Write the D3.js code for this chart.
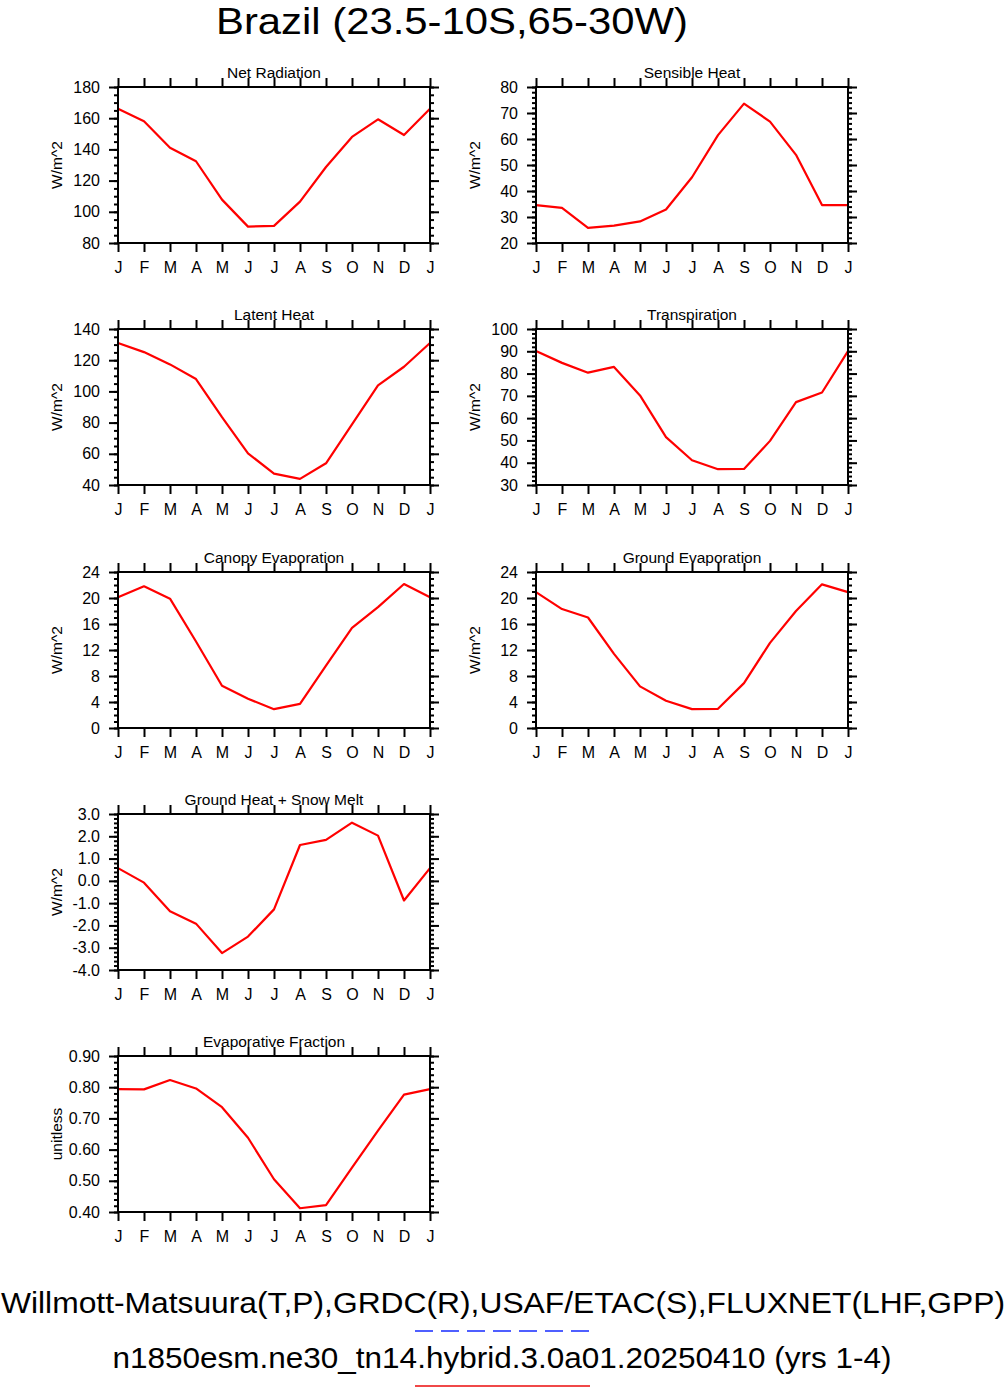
<!DOCTYPE html>
<html>
<head>
<meta charset="utf-8">
<script src="https://cdn.jsdelivr.net/npm/d3@7"></script>
<style>
  body { margin: 0; background: #fff; }
  svg text { font-family: "Liberation Sans", Arial, Helvetica, sans-serif; fill: #000; }
</style>
</head>
<body>
<div id="wrapper"></div>
<script>
// month tick labels (Jan .. Jan, 13 points, last repeats the first)
const monthLabels = ['J', 'F', 'M', 'A', 'M', 'J', 'J', 'A', 'S', 'O', 'N', 'D', 'J'];

// values
const netRadiation = [166, 158, 141.1, 132.4, 107.8, 90.5, 91, 106.5, 128.7, 148, 159.3, 149.2, 166];
const sensibleHeat = [34.6, 33.5, 25.8, 26.7, 28.3, 32.9, 45.3, 61.5, 73.6, 66.7, 53.9, 34.6, 34.6];
const latentHeat = [131, 125.2, 117.3, 107.9, 83.5, 60.3, 47.3, 43.9, 53.9, 78.8, 103.8, 115.8, 131];
const transpiration = [90.1, 84.8, 80.4, 83, 70.2, 51.5, 41.1, 37.1, 37.2, 49.8, 67.2, 71.5, 90.1];
const canopyEvap = [20.1, 21.8, 19.9, 13.3, 6.5, 4.5, 2.9, 3.7, 9.6, 15.4, 18.6, 22.15, 20.1];
const groundEvap = [20.9, 18.3, 17.0, 11.4, 6.4, 4.2, 2.9, 2.95, 6.9, 13.1, 18.0, 22.1, 20.9];
const groundHeat = [0.57, -0.08, -1.36, -1.92, -3.24, -2.5, -1.28, 1.61, 1.84, 2.61, 2.03, -0.88, 0.57];
const evapFraction = [0.794, 0.793, 0.823, 0.796, 0.736, 0.638, 0.505, 0.412, 0.422, 0.542, 0.661, 0.776, 0.794];

// panel titles / units / axis ranges [min, max, major step, minor step, decimals]
const panelTitles = ['Net Radiation', 'Sensible Heat', 'Latent Heat', 'Transpiration',
  'Canopy Evaporation', 'Ground Evaporation', 'Ground Heat + Snow Melt', 'Evaporative Fraction'];
const panelUnits = ['W/m^2', 'W/m^2', 'W/m^2', 'W/m^2', 'W/m^2', 'W/m^2', 'W/m^2', 'unitless'];
const panelRanges = [
  [80, 180, 20, 5, 0],
  [20, 80, 10, 2, 0],
  [40, 140, 20, 5, 0],
  [30, 100, 10, 2, 0],
  [0, 24, 4, 1, 0],
  [0, 24, 4, 1, 0],
  [-4, 3, 1, 0.2, 1],
  [0.4, 0.9, 0.1, 0.02, 2]
];
const panelSeries = [netRadiation, sensibleHeat, latentHeat, transpiration,
  canopyEvap, groundEvap, groundHeat, evapFraction];

const mainTitle = 'Brazil (23.5-10S,65-30W)';
const footer1 = 'Willmott-Matsuura(T,P),GRDC(R),USAF/ETAC(S),FLUXNET(LHF,GPP)';
const footer2 = 'n1850esm.ne30_tn14.hybrid.3.0a01.20250410 (yrs 1-4)';

const dimensions = {
  width: 1006,
  height: 1388,
  plotWidth: 312,
  plotHeight: 156,
  colX: [118, 536],
  rowY: [87, 329, 572, 814, 1056]
};

const svg = d3.select('#wrapper')
  .append('svg')
    .attr('width', dimensions.width)
    .attr('height', dimensions.height);

svg.append('text')
    .attr('x', 452)
    .attr('y', 34)
    .attr('text-anchor', 'middle')
    .attr('font-size', 37)
    .attr('textLength', 472)
    .attr('lengthAdjust', 'spacingAndGlyphs')
    .text(mainTitle);

function drawPanel(i) {
  const [yMin, yMax, step, minor, decimals] = panelRanges[i];
  const values = panelSeries[i];
  // first six panels sit in two columns, the last two stack in the left column
  const ox = dimensions.colX[i < 6 ? i % 2 : 0];
  const oy = dimensions.rowY[i < 6 ? Math.floor(i / 2) : i - 3];
  const w = dimensions.plotWidth;
  const h = dimensions.plotHeight;

  const bounds = svg.append('g')
      .attr('transform', `translate(${ox},${oy})`);

  const xScale = d3.scaleLinear()
    .domain([0, monthLabels.length - 1])
    .range([0, w]);

  const yScale = d3.scaleLinear()
    .domain([yMin, yMax])
    .range([h, 0]);

  const majorTicks = d3.range(0, Math.round((yMax - yMin) / step) + 1)
    .map(k => +(yMin + k * step).toFixed(4));
  const minorTicks = d3.range(0, Math.round((yMax - yMin) / minor) + 1)
    .map(k => +(yMin + k * minor).toFixed(4));
  const monthIdx = d3.range(monthLabels.length);

  // plain hyphen for negatives, like the reference
  const fmt = d => d.toFixed(decimals);

  const styleAxis = g => {
    g.select('.domain').remove();
    g.selectAll('line').attr('stroke', '#000').attr('stroke-width', 2);
    g.selectAll('text').attr('font-size', 16).style('font-family', 'Liberation Sans, Arial, sans-serif');
  };

  // minor y ticks, both sides
  bounds.append('g')
      .call(d3.axisLeft(yScale).tickValues(minorTicks).tickSize(4).tickFormat(''))
      .call(styleAxis);
  bounds.append('g')
      .attr('transform', `translate(${w},0)`)
      .call(d3.axisRight(yScale).tickValues(minorTicks).tickSize(4).tickFormat(''))
      .call(styleAxis);

  // major y ticks
  bounds.append('g')
      .call(d3.axisLeft(yScale).tickValues(majorTicks).tickSize(9).tickPadding(9).tickFormat(fmt))
      .call(styleAxis);
  bounds.append('g')
      .attr('transform', `translate(${w},0)`)
      .call(d3.axisRight(yScale).tickValues(majorTicks).tickSize(9).tickFormat(''))
      .call(styleAxis);

  // x ticks top and bottom
  bounds.append('g')
      .attr('transform', `translate(0,${h})`)
      .call(d3.axisBottom(xScale).tickValues(monthIdx).tickSize(9).tickPadding(10)
        .tickFormat(d => monthLabels[d]))
      .call(styleAxis);
  bounds.append('g')
      .call(d3.axisTop(xScale).tickValues(monthIdx).tickSize(9).tickFormat(''))
      .call(styleAxis);

  const lineGenerator = d3.line()
      .x((d, k) => xScale(k))
      .y(d => yScale(d));

  bounds.append('path')
      .attr('d', lineGenerator(values))
      .attr('fill', 'none')
      .attr('stroke', '#ff0000')
      .attr('stroke-width', 2.2)
      .attr('stroke-linejoin', 'round');

  bounds.append('rect')
      .attr('width', w)
      .attr('height', h)
      .attr('fill', 'none')
      .attr('stroke', '#000')
      .attr('stroke-width', 2);

  bounds.append('text')
      .attr('x', w / 2)
      .attr('y', -9)
      .attr('text-anchor', 'middle')
      .attr('font-size', 15.5)
      .text(panelTitles[i]);

  bounds.append('text')
      .attr('transform', `translate(${-56},${h / 2}) rotate(-90)`)
      .attr('text-anchor', 'middle')
      .attr('font-size', 15.5)
      .text(panelUnits[i]);
}

panelTitles.forEach((t, i) => drawPanel(i));

svg.append('text')
    .attr('x', 503)
    .attr('y', 1313)
    .attr('text-anchor', 'middle')
    .attr('font-size', 30)
    .attr('textLength', 1004)
    .attr('lengthAdjust', 'spacingAndGlyphs')
    .text(footer1);

svg.append('line')
    .attr('x1', 415).attr('x2', 590)
    .attr('y1', 1331).attr('y2', 1331)
    .attr('stroke', '#4f5fff')
    .attr('stroke-width', 2)
    .attr('stroke-dasharray', '18 8');

svg.append('text')
    .attr('x', 502)
    .attr('y', 1368)
    .attr('text-anchor', 'middle')
    .attr('font-size', 30)
    .attr('textLength', 779)
    .attr('lengthAdjust', 'spacingAndGlyphs')
    .text(footer2);

svg.append('line')
    .attr('x1', 415).attr('x2', 590)
    .attr('y1', 1386).attr('y2', 1386)
    .attr('stroke', '#f04848')
    .attr('stroke-width', 2);
</script>
</body>
</html>
